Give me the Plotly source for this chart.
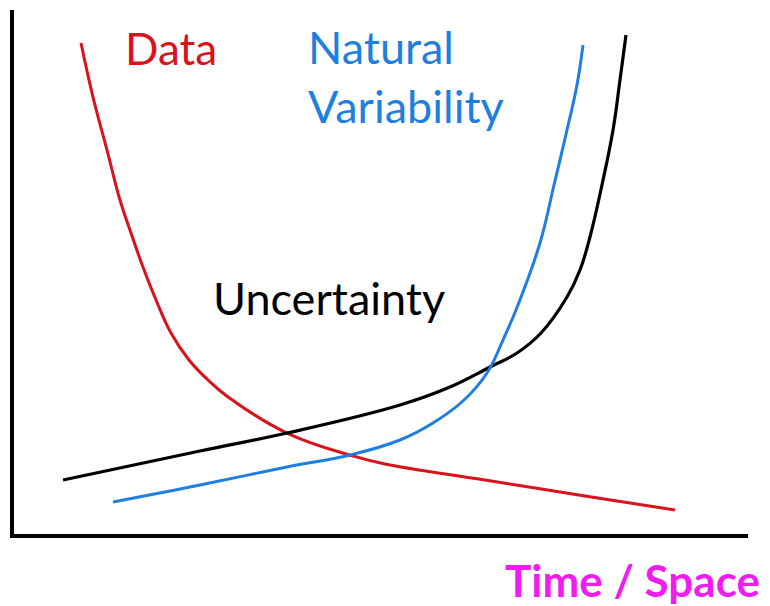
import plotly.graph_objects as go

# Conceptual curves (arbitrary units, x: 0-100, y: 0-100)
data_x = [9.13, 10.76, 12.67, 14.44, 15.94, 17.57, 19.35, 21.39, 23.84, 26.43, 29.16, 37.19, 46.19, 50.54, 64.17, 77.79, 90.05]
data_y = [93.70, 83.40, 73.28, 63.74, 57.44, 50.95, 44.66, 38.36, 33.21, 29.39, 26.15, 19.27, 14.89, 13.36, 10.31, 7.25, 4.58]

unc_x = [6.68, 25.34, 37.19, 52.59, 59.40, 64.85, 68.53, 71.80, 75.34, 77.11, 78.47, 80.25, 81.61, 82.56, 83.38]
unc_y = [10.31, 15.84, 19.27, 24.62, 28.05, 31.87, 34.54, 38.36, 45.23, 50.38, 56.68, 67.56, 77.10, 86.64, 95.23]

nat_x = [13.49, 25.34, 37.19, 45.78, 52.59, 57.08, 61.31, 64.44, 66.62, 68.66, 71.66, 73.57, 75.34, 76.70, 77.52]
nat_y = [6.11, 9.35, 12.79, 15.08, 17.94, 21.18, 25.57, 30.73, 37.02, 43.70, 55.53, 66.60, 77.10, 85.69, 93.32]

labels = ["Data", "Natural<br>Variability", "Uncertainty", "Time / Space"]

RED = "#d9121b"
BLUE = "#1f7fe0"
BLACK = "#000000"
MAGENTA = "#f01cf0"

fig = go.Figure()
fig.add_trace(go.Scatter(x=data_x, y=data_y, mode="lines",
                         line=dict(color=RED, width=3, shape="spline", smoothing=1.2), hoverinfo="skip"))
fig.add_trace(go.Scatter(x=unc_x, y=unc_y, mode="lines",
                         line=dict(color=BLACK, width=3.2, shape="spline", smoothing=1.2), hoverinfo="skip"))
fig.add_trace(go.Scatter(x=nat_x, y=nat_y, mode="lines",
                         line=dict(color=BLUE, width=3, shape="spline", smoothing=1.2), hoverinfo="skip"))

font_family = "Lato, Calibri, sans-serif"
fig.add_annotation(x=14.9, y=92.7, xref="x", yref="y", text=labels[0], showarrow=False,
                   xanchor="left", yanchor="middle", font=dict(family=font_family, size=44, color=RED))
fig.add_annotation(x=39.8, y=87.3, xref="x", yref="y", text=labels[1], showarrow=False,
                   xanchor="left", yanchor="middle", align="left",
                   font=dict(family=font_family, size=45, color=BLUE))
fig.add_annotation(x=26.8, y=45.0, xref="x", yref="y", text=labels[2], showarrow=False,
                   xanchor="left", yanchor="middle", font=dict(family=font_family, size=45, color=BLACK))
fig.add_annotation(x=1.019, y=-0.087, xref="paper", yref="paper", text="<b>" + labels[3] + "</b>",
                   showarrow=False, xanchor="right", yanchor="middle",
                   font=dict(family=font_family, size=44, color=MAGENTA))

fig.update_xaxes(range=[0, 100], showline=True, linecolor="black", linewidth=4,
                 showgrid=False, zeroline=False, showticklabels=False, ticks="")
fig.update_yaxes(range=[0, 100], showline=True, linecolor="black", linewidth=4,
                 showgrid=False, zeroline=False, showticklabels=False, ticks="")

fig.update_layout(width=762, height=598, showlegend=False,
                  margin=dict(l=6, r=22, t=2, b=72),
                  paper_bgcolor="white", plot_bgcolor="white")

fig.write_html("out.html")
